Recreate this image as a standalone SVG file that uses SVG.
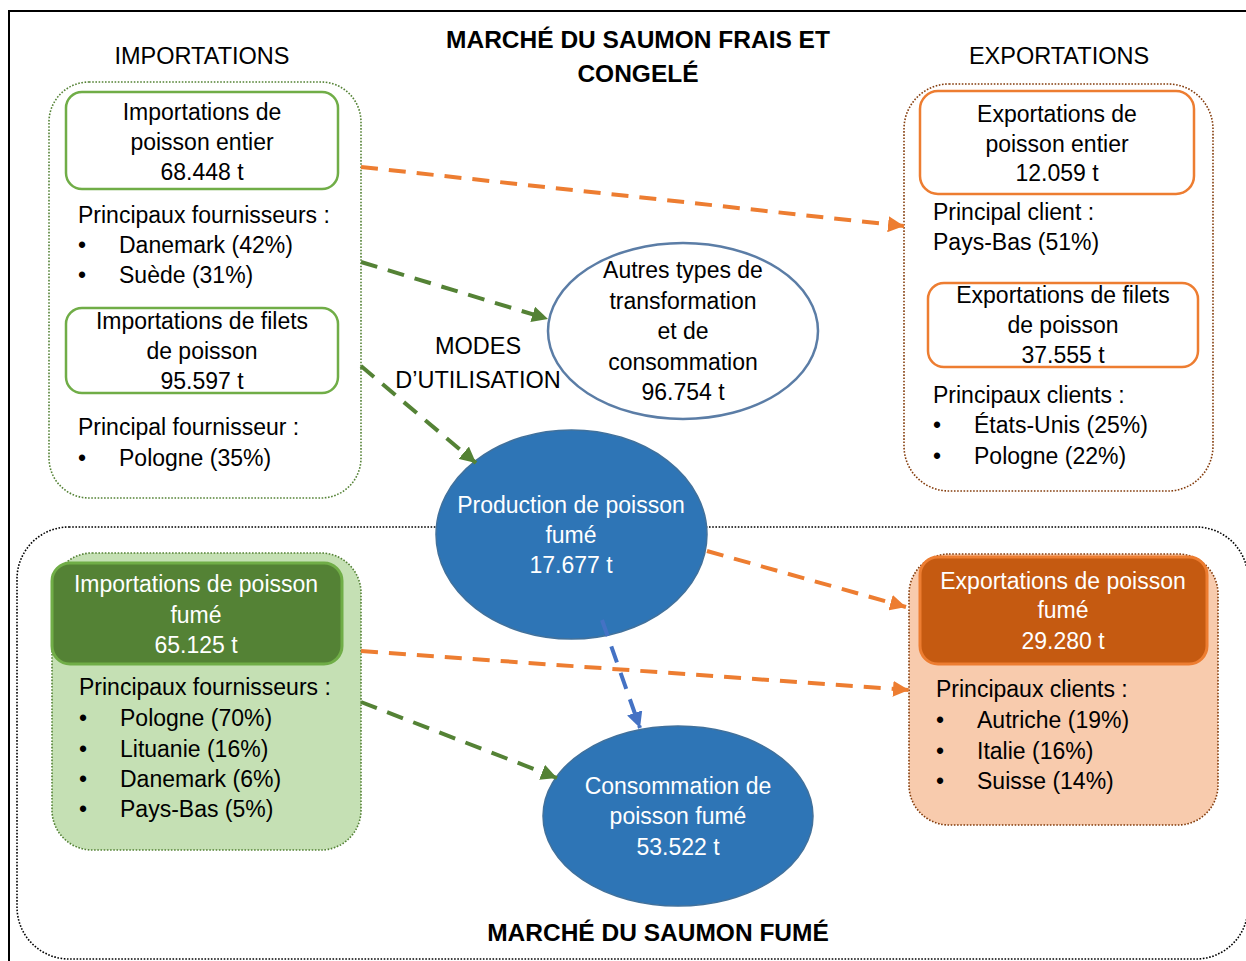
<svg xmlns="http://www.w3.org/2000/svg" width="1246" height="961" viewBox="0 0 1246 961">
<defs>
<style>
text{font-family:"Liberation Sans",Arial,sans-serif;font-size:23px;fill:#000}
.c{text-anchor:middle}
.w{fill:#fff}
.b{font-weight:bold;font-size:24.5px}
.h{font-size:23.5px}
.dot{fill:none;stroke-width:1.6;stroke-dasharray:1.6 1.6}
.fg{fill:#C5E0B4}
.fo{fill:#F8CBAD}
.gbox{fill:#fff;stroke:#70AD47;stroke-width:2.5}
.obox{fill:#fff;stroke:#ED7D31;stroke-width:2.5}
.con{fill:none;stroke-width:4;stroke-dasharray:17 11}
.or{stroke:#ED7D31}
.gr{stroke:#548235}
.bl{stroke:#4472C4}
</style>
<marker id="ao" viewBox="0 0 16 16" markerUnits="userSpaceOnUse" markerWidth="16" markerHeight="16" refX="16" refY="8" orient="auto"><path d="M0,0 L16,8 L0,16 z" fill="#ED7D31"/></marker>
<marker id="ag" viewBox="0 0 16 16" markerUnits="userSpaceOnUse" markerWidth="16" markerHeight="16" refX="16" refY="8" orient="auto"><path d="M0,0 L16,8 L0,16 z" fill="#548235"/></marker>
<marker id="ab" viewBox="0 0 16 16" markerUnits="userSpaceOnUse" markerWidth="16" markerHeight="16" refX="16" refY="8" orient="auto"><path d="M0,0 L16,8 L0,16 z" fill="#4472C4"/></marker>
</defs>
<rect x="0" y="0" width="1246" height="961" fill="#fff"/>
<rect x="9" y="11" width="1250" height="962" fill="none" stroke="#000" stroke-width="2"/>

<g id="titles">
<text class="c b" x="638" y="48">MARCHÉ DU SAUMON FRAIS ET</text>
<text class="c b" x="638" y="82">CONGELÉ</text>
<text class="c h" x="202" y="64">IMPORTATIONS</text>
<text class="c h" x="1059" y="64">EXPORTATIONS</text>
<text class="c h" x="478" y="354">MODES</text>
<text class="c h" x="478" y="388">D’UTILISATION</text>
<text class="c b" x="658" y="941">MARCHÉ DU SAUMON FUMÉ</text>
</g>

<g id="smoked-market">
<rect class="dot" x="17" y="527" width="1231" height="432" rx="52" stroke="#000"/>
</g>

<g id="imports">
<rect class="dot" x="49" y="82" width="312" height="416" rx="40" stroke="#548235"/>
<g id="import-whole">
<rect class="gbox" x="66" y="92" width="272" height="97" rx="16"/>
<text class="c" x="202" y="120">Importations de</text>
<text class="c" x="202" y="150">poisson entier</text>
<text class="c" x="202" y="180">68.448 t</text>
</g>
<text x="78" y="223">Principaux fournisseurs :</text>
<text x="78" y="253">•</text><text x="119" y="253">Danemark (42%)</text>
<text x="78" y="283">•</text><text x="119" y="283">Suède (31%)</text>
<g id="import-fillets">
<rect class="gbox" x="66" y="308" width="272" height="85" rx="16"/>
<text class="c" x="202" y="329">Importations de filets</text>
<text class="c" x="202" y="359">de poisson</text>
<text class="c" x="202" y="389">95.597 t</text>
</g>
<text x="78" y="435">Principal fournisseur :</text>
<text x="78" y="466">•</text><text x="119" y="466">Pologne (35%)</text>
</g>

<g id="exports">
<rect class="dot" x="904" y="84" width="309" height="407" rx="45" stroke="#843C0C"/>
<g id="export-whole">
<rect class="obox" x="920" y="91" width="274" height="103" rx="18"/>
<text class="c" x="1057" y="122">Exportations de</text>
<text class="c" x="1057" y="152">poisson entier</text>
<text class="c" x="1057" y="181">12.059 t</text>
</g>
<text x="933" y="220">Principal client :</text>
<text x="933" y="250">Pays-Bas (51%)</text>
<g id="export-fillets">
<rect class="obox" x="928" y="283" width="270" height="84" rx="16"/>
<text class="c" x="1063" y="303">Exportations de filets</text>
<text class="c" x="1063" y="333">de poisson</text>
<text class="c" x="1063" y="363">37.555 t</text>
</g>
<text x="933" y="403">Principaux clients :</text>
<text x="933" y="433">•</text><text x="974" y="433">États-Unis (25%)</text>
<text x="933" y="464">•</text><text x="974" y="464">Pologne (22%)</text>
</g>

<g id="smoked-imports">
<rect class="dot fg" x="52" y="553" width="309" height="297" rx="40" stroke="#548235"/>
<rect x="52" y="563" width="290" height="101" rx="18" fill="#548235" stroke="#70AD47" stroke-width="3"/>
<text class="c w" x="196" y="592">Importations de poisson</text>
<text class="c w" x="196" y="623">fumé</text>
<text class="c w" x="196" y="653">65.125 t</text>
<text x="79" y="695">Principaux fournisseurs :</text>
<text x="79" y="726">•</text><text x="120" y="726">Pologne (70%)</text>
<text x="79" y="757">•</text><text x="120" y="757">Lituanie (16%)</text>
<text x="79" y="787">•</text><text x="120" y="787">Danemark (6%)</text>
<text x="79" y="817">•</text><text x="120" y="817">Pays-Bas (5%)</text>
</g>

<g id="smoked-exports">
<rect class="dot fo" x="909" y="554" width="309" height="271" rx="40" stroke="#843C0C"/>
<rect x="920" y="557" width="287" height="107" rx="18" fill="#C55A11" stroke="#ED7D31" stroke-width="3"/>
<text class="c w" x="1063" y="589">Exportations de poisson</text>
<text class="c w" x="1063" y="618">fumé</text>
<text class="c w" x="1063" y="649">29.280 t</text>
<text x="936" y="697">Principaux clients :</text>
<text x="936" y="728">•</text><text x="977" y="728">Autriche (19%)</text>
<text x="936" y="759">•</text><text x="977" y="759">Italie (16%)</text>
<text x="936" y="789">•</text><text x="977" y="789">Suisse (14%)</text>
</g>

<g id="other-uses">
<ellipse cx="683" cy="331" rx="135" ry="88" fill="#fff" stroke="#5B7DA6" stroke-width="2.5"/>
<text class="c" x="683" y="278">Autres types de</text>
<text class="c" x="683" y="309">transformation</text>
<text class="c" x="683" y="339">et de</text>
<text class="c" x="683" y="370">consommation</text>
<text class="c" x="683" y="400">96.754 t</text>
</g>

<g id="smoked-production">
<ellipse cx="571.5" cy="534.5" rx="135.5" ry="104.5" fill="#2E75B6" stroke="#41719C" stroke-width="1.5"/>
<text class="c w" x="571" y="513">Production de poisson</text>
<text class="c w" x="571" y="543">fumé</text>
<text class="c w" x="571" y="573">17.677 t</text>
</g>

<g id="smoked-consumption">
<ellipse cx="678" cy="816" rx="135" ry="90" fill="#2E75B6" stroke="#41719C" stroke-width="1.5"/>
<text class="c w" x="678" y="794">Consommation de</text>
<text class="c w" x="678" y="824">poisson fumé</text>
<text class="c w" x="678" y="855">53.522 t</text>
</g>

<g id="connectors">
<line class="con or" x1="361" y1="167" x2="904" y2="226" marker-end="url(#ao)"/>
<line class="con gr" x1="361" y1="262" x2="548" y2="319" marker-end="url(#ag)"/>
<line class="con gr" x1="361" y1="366" x2="476" y2="463" marker-end="url(#ag)"/>
<line class="con or" x1="707" y1="551" x2="906" y2="607" marker-end="url(#ao)"/>
<line class="con bl" x1="602" y1="620" x2="640" y2="728" marker-end="url(#ab)"/>
<line class="con or" x1="361" y1="651" x2="909" y2="690" marker-end="url(#ao)"/>
<line class="con gr" x1="361" y1="702" x2="557" y2="778" marker-end="url(#ag)"/>
</g>
</svg>
